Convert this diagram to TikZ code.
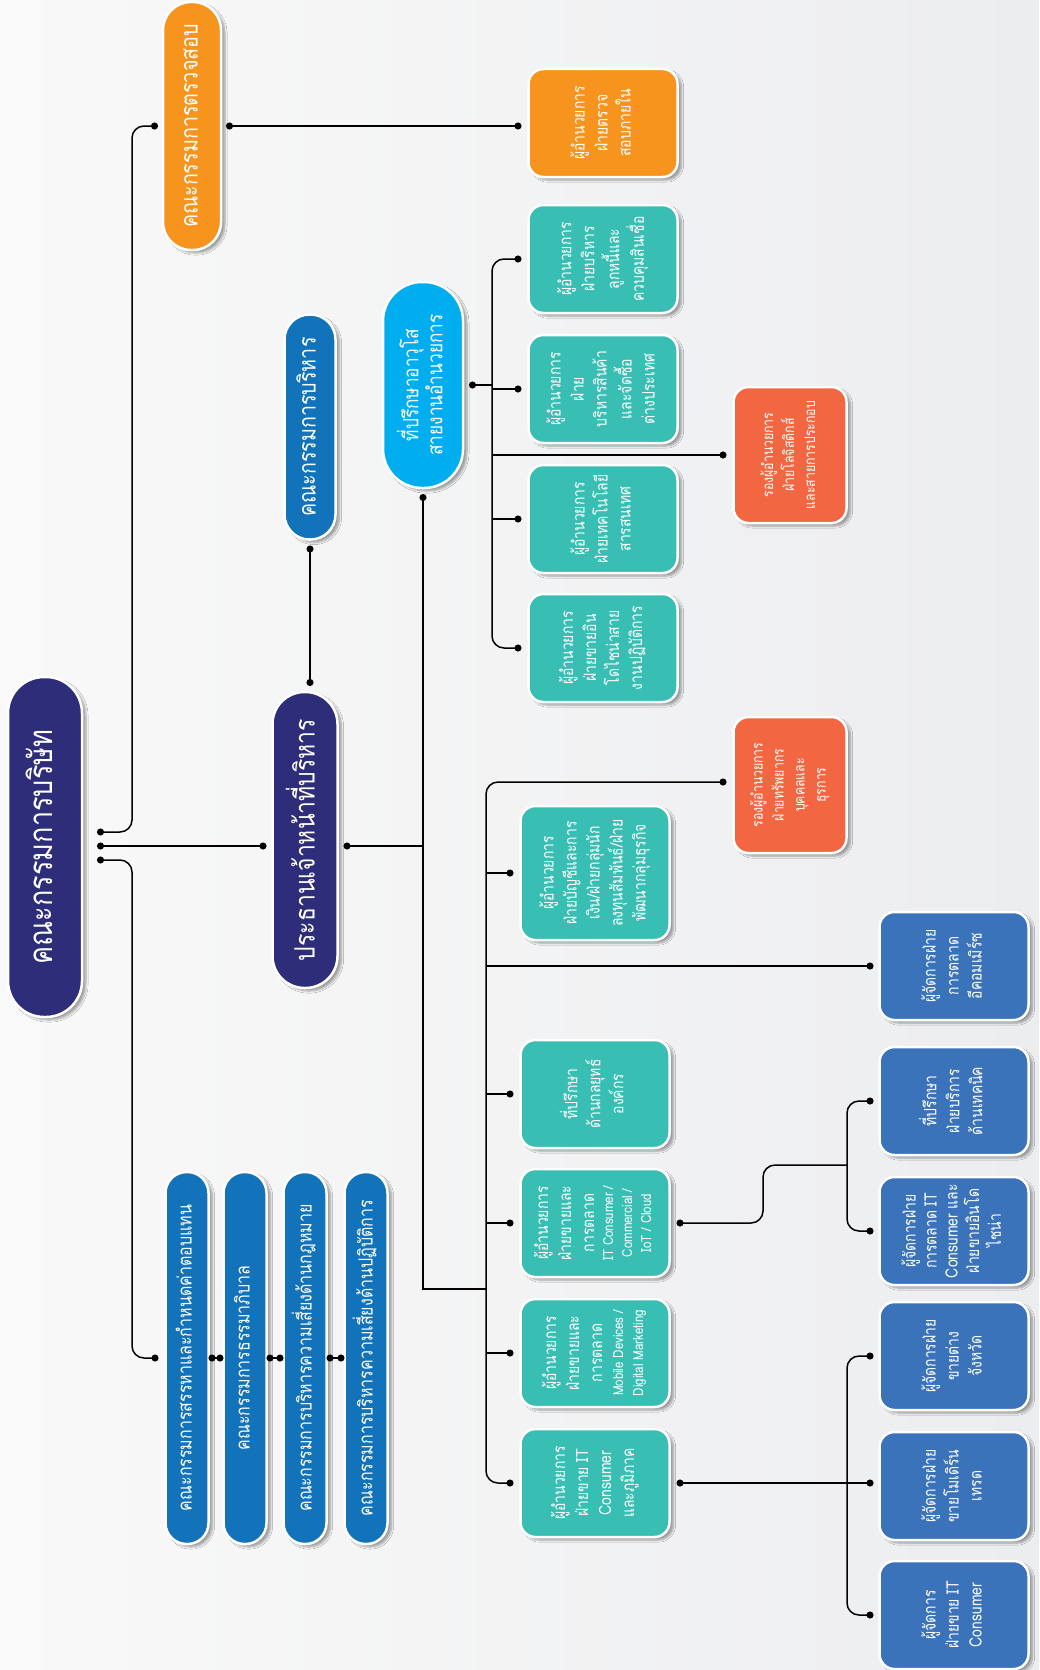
\documentclass[tikz,border=0pt]{standalone}
\usepackage{fontspec}
\setmainfont[Script=Thai,FakeStretch=0.82]{Loma}
\usetikzlibrary{arrows.meta,calc,shadows.blur}
\definecolor{navy}{RGB}{46,45,122}
\definecolor{midblue}{RGB}{18,114,186}
\definecolor{skyblue}{RGB}{0,174,239}
\definecolor{tealbox}{RGB}{56,190,178}
\definecolor{orangebox}{RGB}{247,148,29}
\definecolor{redbox}{RGB}{242,102,66}
\definecolor{bluebox}{RGB}{59,115,186}
\definecolor{bgl}{RGB}{249,249,249}
\definecolor{bgr}{RGB}{236,237,239}
\newcommand{\VText}[1]{\rotatebox{90}{\begin{tabular}{@{}c@{}}#1\end{tabular}}}
\begin{document}
\begin{tikzpicture}[x=1pt,y=-1pt,
  base/.style={rectangle, draw=white, line width=2.5pt, text=white, inner sep=0pt, outer sep=7pt,
    blur shadow={shadow xshift=4pt, shadow yshift=-3pt, shadow opacity=35, shadow blur steps=6}},
  box/.style={base, minimum width=149pt, minimum height=108pt, rounded corners=15pt,
    font=\fontsize{17}{23}\selectfont},
  redb/.style={base, fill=redbox, minimum width=113pt, minimum height=136pt, rounded corners=15pt,
    font=\fontsize{15}{21}\selectfont},
  sidep/.style={base, fill=midblue, outer sep=0pt, minimum width=43pt, minimum height=372pt,
    rounded corners=21pt, font=\fontsize{19.5}{23}\selectfont},
  conn/.style={line width=1.5pt, rounded corners=12pt},
  dotboth/.style={{Circle[length=7pt]}-{Circle[length=7pt]}},
  dotstart/.style={{Circle[length=7pt]}-},
  dotend/.style={-{Circle[length=7pt]}}
]
\useasboundingbox (0,0) rectangle (1039,1670);
\shade[left color=bgl, right color=bgr] (0,0) rectangle (1039,1670);

% main pills
\node[base, fill=navy, outer sep=0pt, minimum width=74pt, minimum height=340pt, rounded corners=36pt,
  font=\fontsize{33}{38}\selectfont] (board) at (45,847) {\VText{คณะกรรมการบริษัท}};
\node[base, fill=navy, outer sep=6pt, minimum width=65pt, minimum height=296pt, rounded corners=32pt,
  font=\fontsize{28}{32}\selectfont] (ceo) at (305,840) {\VText{ประธานเจ้าหน้าที่บริหาร}};
\node[base, fill=midblue, outer sep=6pt, minimum width=51pt, minimum height=225pt, rounded corners=25pt,
  font=\fontsize{24}{28}\selectfont] (exec) at (310,427) {\VText{คณะกรรมการบริหาร}};
\node[base, fill=orangebox, outer sep=5pt, minimum width=58pt, minimum height=248pt, rounded corners=28pt,
  font=\fontsize{24}{28}\selectfont] (audit) at (192,126) {\VText{คณะกรรมการตรวจสอบ}};
\node[base, fill=skyblue, outer sep=6pt, minimum width=80pt, minimum height=206pt, rounded corners=39pt,
  font=\fontsize{21}{23}\selectfont] (adv) at (423,385) {\VText{ที่ปรึกษาอาวุโส\\สายงานอำนวยการ}};

% left column committees
\node[sidep] (P1) at (187,1358) {\VText{คณะกรรมการสรรหาและกำหนดค่าตอบแทน}};
\node[sidep] (P2) at (245,1358) {\VText{คณะกรรมการธรรมาภิบาล}};
\node[sidep] (P3) at (305,1358) {\VText{คณะกรรมการบริหารความเสี่ยงด้านกฎหมาย}};
\node[sidep] (P4) at (366,1358) {\VText{คณะกรรมการบริหารความเสี่ยงด้านปฏิบัติการ}};

% orange director
\node[box, fill=orangebox] (auditdir) at (603,123) {\VText{ผู้อำนวยการ\\ฝ่ายตรวจ\\สอบภายใน}};

% teal, upper group
\node[box, fill=tealbox] (A) at (603,259) {\VText{ผู้อำนวยการ\\ฝ่ายบริหาร\\ลูกหนี้และ\\ควบคุมสินเชื่อ}};
\node[box, fill=tealbox] (B) at (603,389) {\VText{ผู้อำนวยการ\\ฝ่าย\\บริหารสินค้า\\และจัดซื้อ\\ต่างประเทศ}};
\node[box, fill=tealbox] (C) at (603,519) {\VText{ผู้อำนวยการ\\ฝ่ายเทคโนโลยี\\สารสนเทศ}};
\node[box, fill=tealbox] (D) at (603,648) {\VText{ผู้อำนวยการ\\ฝ่ายขายอิน\\โดไชน่าสาย\\งานปฏิบัติการ}};

% red
\node[redb] (R1) at (790,455) {\VText{รองผู้อำนวยการ\\ฝ่ายโลจิสติกส์\\และสายการประกอบ}};
\node[redb] (R2) at (790,785) {\VText{รองผู้อำนวยการ\\ฝ่ายทรัพยากร\\บุคคลและ\\ธุรการ}};

% teal, lower group
\node[box, fill=tealbox, minimum height=134pt] (E) at (595,873) {\VText{ผู้อำนวยการ\\ฝ่ายบัญชีและการ\\เงิน/ฝ่ายกลุ่มนัก\\ลงทุนสัมพันธ์/ฝ่าย\\พัฒนากลุ่มธุรกิจ}};
\node[box, fill=tealbox] (F) at (595,1094) {\VText{ที่ปรึกษา\\ด้านกลยุทธ์\\องค์กร}};
\node[box, fill=tealbox] (G) at (595,1223) {\VText{ผู้อำนวยการ\\ฝ่ายขายและ\\การตลาด\\[-4pt]{\fontsize{14}{18}\selectfont IT Consumer /}\\[-4pt]{\fontsize{14}{18}\selectfont Commercial /}\\[-4pt]{\fontsize{14}{18}\selectfont IoT / Cloud}}};
\node[box, fill=tealbox] (H) at (595,1353) {\VText{ผู้อำนวยการ\\ฝ่ายขายและ\\การตลาด\\[-2pt]{\fontsize{14}{18}\selectfont Mobile Devices /}\\[-3pt]{\fontsize{14}{18}\selectfont Digital Marketing}}};
\node[box, fill=tealbox] (I) at (595,1483) {\VText{ผู้อำนวยการ\\ฝ่ายขาย IT\\Consumer\\และภูมิภาค}};

% blue, right column
\node[box, fill=bluebox, outer sep=6pt] (J) at (954,966) {\VText{ผู้จัดการฝ่าย\\การตลาด\\อีคอมเมิร์ซ}};
\node[box, fill=bluebox, outer sep=6pt] (K) at (954,1101) {\VText{ที่ปรึกษา\\ฝ่ายบริการ\\ด้านเทคนิค}};
\node[box, fill=bluebox, outer sep=6pt, font=\fontsize{17}{21}\selectfont] (L) at (954,1231) {\VText{ผู้จัดการฝ่าย\\การตลาด IT\\Consumer และ\\ฝ่ายขายอินโด\\ไชน่า}};
\node[box, fill=bluebox, outer sep=6pt] (M) at (954,1356) {\VText{ผู้จัดการฝ่าย\\ขายต่าง\\จังหวัด}};
\node[box, fill=bluebox, outer sep=6pt] (N) at (954,1486) {\VText{ผู้จัดการฝ่าย\\ขายโมเดิร์น\\เทรด}};
\node[box, fill=bluebox, outer sep=6pt] (O) at (954,1615) {\VText{ผู้จัดการ\\ฝ่ายขาย IT\\Consumer}};

% bus coordinates
\coordinate (busL) at (132,0);
\coordinate (busB) at (492,0);
\coordinate (busT) at (486,0);
\coordinate (busC) at (847,0);
\coordinate (b1) at ($(board.east)+(15,-15)$);
\coordinate (b2) at ($(board.east)+(15,-1)$);
\coordinate (b3) at ($(board.east)+(15,13)$);
\coordinate (p1in) at ($(P1.west)+(-7,0)$);
\coordinate (jB) at (486,1289);
\coordinate (jC) at (763,1165);

% board connections
\draw[conn, dotboth] (b1) -| (busL |- audit.west) -- (audit.west);
\draw[conn, dotboth] (b2) -- (b2 -| ceo.west);
\draw[conn, dotboth] (b3) -| (busL |- p1in) -- (p1in);
\draw[conn, dotboth] (P1.east) -- (P2.west);
\draw[conn, dotboth] (P2.east) -- (P3.west);
\draw[conn, dotboth] (P3.east) -- (P4.west);
\draw[conn, dotboth] (audit.east) -- (audit.east -| auditdir.west);

% ceo connections
\draw[conn, dotboth] (ceo.north -| exec.south) -- (exec.south);
\draw[conn, dotstart] (ceo.east |- b2) -- (adv.south |- b2);
\draw[line width=1.5pt, dotstart] (adv.south) -- (adv.south |- jB) -- (jB);

% advisor group
\draw[conn, dotstart] (adv.east) -- (busB |- adv.east);
\draw[conn, dotboth] (A.west) -| (busB |- D.west) -- (D.west);
\draw[conn, dotend] (busB |- B.west) -- (B.west);
\draw[conn, dotend] (busB |- C.west) -- (C.west);
\draw[conn, dotend] (busB |- R1.west) -- (R1.west);

% lower teal group
\draw[conn, dotboth] ($(R2.west)+(0,-3)$) -| (busT |- I.west) -- (I.west);
\draw[conn, dotend] (busT |- E.west) -- (E.west);
\draw[conn, dotend] (busT |- J.west) -- (J.west);
\draw[conn, dotend] (busT |- F.west) -- (F.west);
\draw[conn, dotend] (busT |- G.west) -- (G.west);
\draw[conn, dotend] (busT |- H.west) -- (H.west);

% right blue groups
\draw[conn, dotstart] (G.east) -| (jC) -- (busC |- jC);
\draw[conn, dotboth] (K.west) -| (busC |- L.west) -- (L.west);
\draw[conn, dotboth] (M.west) -| (busC |- O.west) -- (O.west);
\draw[conn, dotboth] (I.east) -- (I.east -| N.west);
\end{tikzpicture}
\end{document}
